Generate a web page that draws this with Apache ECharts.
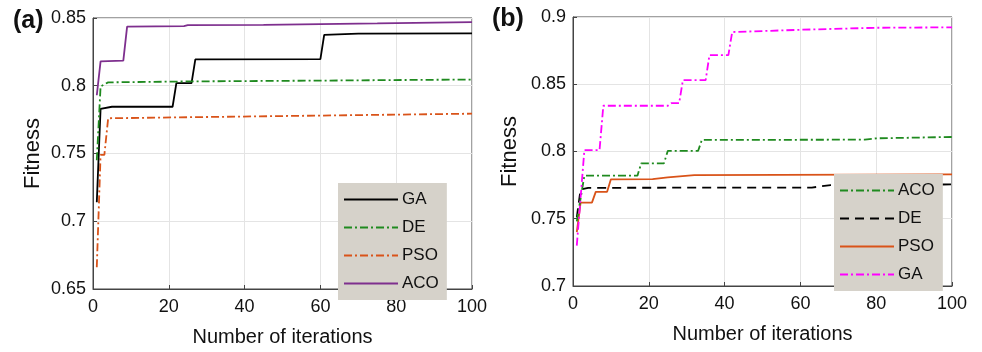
<!DOCTYPE html>
<html>
<head>
<meta charset="utf-8">
<script src="https://cdn.jsdelivr.net/npm/echarts@6/dist/echarts.min.js"></script>
<style>
  html, body { margin: 0; padding: 0; background: #fff; }
  #chart { width: 982px; height: 352px; }
</style>
</head>
<body>
<div id="chart"></div>
<script>
// panel (a)
const gaA_iter = [1, 2, 5, 21, 22, 26, 27, 60, 61, 70, 100];
const gaA_fit = [0.714, 0.783, 0.7845, 0.7845, 0.802, 0.802, 0.8195, 0.8197, 0.8375, 0.8385, 0.8387];
const deA_iter = [1, 2, 4, 25, 60, 100];
const deA_fit = [0.745, 0.7995, 0.8025, 0.8032, 0.8038, 0.8046];
const psoA_iter = [1, 2, 3, 4, 60, 100];
const psoA_fit = [0.666, 0.749, 0.749, 0.776, 0.778, 0.7794];
const acoA_iter = [1, 2, 8, 9, 24, 25, 45, 75, 100];
const acoA_fit = [0.793, 0.818, 0.8185, 0.8437, 0.844, 0.8447, 0.845, 0.846, 0.847];

// panel (b)
const acoB_iter = [1, 2, 3, 17, 18, 24, 25, 33, 34, 77, 80, 100];
const acoB_fit = [0.748, 0.765, 0.782, 0.782, 0.7912, 0.7912, 0.8004, 0.8004, 0.8086, 0.8088, 0.8098, 0.8108];
const deB_iter = [1, 2, 4, 63, 68, 100];
const deB_fit = [0.751, 0.7718, 0.773, 0.7732, 0.775, 0.7755];
const psoB_iter = [1, 2, 5, 6, 9, 10, 21, 25, 32, 100];
const psoB_fit = [0.74, 0.762, 0.762, 0.77, 0.77, 0.7793, 0.7795, 0.7808, 0.7825, 0.783];
const gaB_iter = [1, 3, 7, 8, 25, 26, 28, 29, 35, 36, 41, 42, 60, 80, 100];
const gaB_fit = [0.73, 0.801, 0.801, 0.834, 0.834, 0.836, 0.836, 0.853, 0.853, 0.8717, 0.8717, 0.8888, 0.8905, 0.892, 0.8923];

const xTicks = [0, 20, 40, 60, 80, 100];
const yTicksA = [0.65, 0.7, 0.75, 0.8, 0.85];
const yTicksB = [0.7, 0.75, 0.8, 0.85, 0.9];

const FONT = '"Liberation Sans", Arial, sans-serif';
const GREEN = '#1f8a1f';
const ORANGE = '#d95319';
const PURPLE = '#7e2f8e';
const MAGENTA = '#ff00ff';
const DASHDOT = [8, 3, 2, 3];

const pairs = (xs, ys) => xs.map((x, i) => [x, ys[i]]);

function lineSeries(name, idx, xs, ys, color, type) {
  return {
    name: name,
    type: 'line',
    xAxisIndex: idx,
    yAxisIndex: idx,
    data: pairs(xs, ys),
    showSymbol: false,
    symbol: 'none',
    animation: false,
    lineStyle: { color: color, width: 1.8, type: type },
    itemStyle: { color: color },
  };
}

function xAxisOf(idx) {
  return {
    type: 'value',
    gridIndex: idx,
    min: xTicks[0],
    max: xTicks[xTicks.length - 1],
    interval: 20,
    name: 'Number of iterations',
    nameLocation: 'middle',
    nameGap: 38,
    nameTextStyle: { fontFamily: FONT, fontSize: 20, color: '#111' },
    axisLine: { lineStyle: { color: '#444', width: 1 } },
    axisTick: { inside: true, length: 4, lineStyle: { color: '#444' } },
    axisLabel: { fontFamily: FONT, fontSize: 18, color: '#111', margin: 9 },
    splitLine: { lineStyle: { color: '#e4e4e4', width: 1 } },
  };
}

function yAxisOf(idx, ticks, gap) {
  return {
    type: 'value',
    gridIndex: idx,
    min: ticks[0],
    max: ticks[ticks.length - 1],
    interval: 0.05,
    name: 'Fitness',
    nameLocation: 'middle',
    nameGap: gap,
    nameTextStyle: { fontFamily: FONT, fontSize: 22, color: '#111' },
    axisLine: { show: true, lineStyle: { color: '#444', width: 1 } },
    axisTick: { show: true, inside: true, length: 4, lineStyle: { color: '#444' } },
    axisLabel: {
      fontFamily: FONT, fontSize: 18, color: '#111', margin: 7,
      formatter: (v) => String(+v.toFixed(2)),
    },
    splitLine: { lineStyle: { color: '#e4e4e4', width: 1 } },
  };
}

function legendOf(names, left, top) {
  return {
    orient: 'vertical',
    left: left,
    top: top,
    data: names,
    backgroundColor: '#d6d2ca',
    borderWidth: 0,
    padding: [8, 8, 8, 5],
    itemWidth: 54,
    itemHeight: 14,
    itemGap: 11,
    selectedMode: false,
    itemStyle: { opacity: 0 },
    textStyle: { fontFamily: FONT, fontSize: 17, color: '#111', padding: [0, 0, 0, -1] },
    formatter: (n) => n.replace(/_b$/, ''),
  };
}

const chart = echarts.init(document.getElementById('chart'), null, { renderer: 'canvas' });
chart.setOption({
  backgroundColor: '#fff',
  animation: false,
  title: [
    { text: '(a)', left: 8, top: 4, textStyle: { fontFamily: FONT, fontSize: 25, fontWeight: 'bold', color: '#111' } },
    { text: '(b)', left: 487, top: 2, textStyle: { fontFamily: FONT, fontSize: 25, fontWeight: 'bold', color: '#111' } },
  ],
  grid: [
    { left: 93, right: 510, top: 18, bottom: 59, show: true, borderColor: '#444', borderWidth: 1, backgroundColor: 'transparent' },
    { left: 573, right: 30, top: 17, bottom: 66, show: true, borderColor: '#444', borderWidth: 1, backgroundColor: 'transparent' },
  ],
  xAxis: [xAxisOf(0), xAxisOf(1)],
  yAxis: [yAxisOf(0, yTicksA, 49), yAxisOf(1, yTicksB, 52)],
  legend: [
    legendOf(['GA', 'DE', 'PSO', 'ACO'], 338, 183),
    legendOf(['ACO_b', 'DE_b', 'PSO_b', 'GA_b'], 834, 174),
  ],
  series: [
    lineSeries('PSO', 0, psoA_iter, psoA_fit, ORANGE, DASHDOT),
    lineSeries('GA', 0, gaA_iter, gaA_fit, '#000000', 'solid'),
    lineSeries('DE', 0, deA_iter, deA_fit, GREEN, DASHDOT),
    lineSeries('ACO', 0, acoA_iter, acoA_fit, PURPLE, 'solid'),
    lineSeries('DE_b', 1, deB_iter, deB_fit, '#000000', [9, 6]),
    lineSeries('PSO_b', 1, psoB_iter, psoB_fit, ORANGE, 'solid'),
    lineSeries('ACO_b', 1, acoB_iter, acoB_fit, GREEN, DASHDOT),
    lineSeries('GA_b', 1, gaB_iter, gaB_fit, MAGENTA, DASHDOT),
  ],
});
</script>
</body>
</html>
